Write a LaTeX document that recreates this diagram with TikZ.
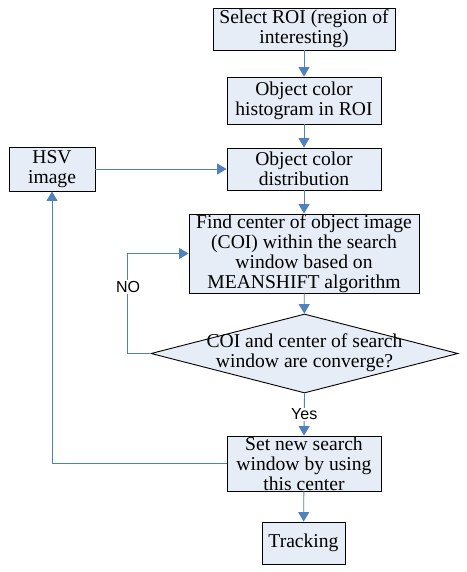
\documentclass[tikz,border=0pt]{standalone}
\usepackage{fontspec}
\setmainfont{Liberation Serif}
\newfontfamily\lblfont{Liberation Sans}
\usetikzlibrary{arrows.meta,shapes.geometric}
\definecolor{boxfill}{RGB}{231,237,247}
\definecolor{lineblue}{RGB}{79,129,189}
\begin{document}
\begin{tikzpicture}[x=1pt,y=-1pt,
 procbox/.style={draw=black,fill=boxfill,line width=0.9pt,inner sep=0pt,align=center,font=\fontsize{19.6}{20}\selectfont},
 decbox/.style={diamond,draw=black,fill=boxfill,line width=0.9pt,inner sep=0pt},
 dectext/.style={inner sep=0pt,align=center,font=\fontsize{19.6}{20}\selectfont},
 flow/.style={draw=lineblue,line width=0.9pt,-{Triangle[width=11pt,length=9.5pt]}},
 link/.style={draw=lineblue,line width=0.9pt},
 lbl/.style={fill=white,inner sep=1pt,font=\lblfont\fontsize{16}{18}\selectfont}]
\useasboundingbox (0,0) rectangle (466,572);
\node[procbox,minimum width=182pt,minimum height=42pt] (roi) at (304,29) {Select ROI (region of\\interesting)};
\node[procbox,minimum width=154pt,minimum height=47pt] (hist) at (304,100.5) {Object color\\histogram in ROI};
\node[procbox,minimum width=154pt,minimum height=42pt] (dist) at (304,169) {Object color\\distribution};
\node[procbox,minimum width=86pt,minimum height=44pt] (hsv) at (52,169) {HSV\\image};
\node[procbox,minimum width=230pt,minimum height=79pt] (find) at (304,253.5) {Find center of object image\\(COI) within the search\\window based on\\MEANSHIFT algorithm};
\node[decbox,minimum width=307pt,minimum height=79pt] (dia) at (304.5,353.5) {};
\node[dectext] (diatext) at (304.5,353) {COI and center of search\\window are converge?};
\node[procbox,minimum width=154pt,minimum height=55pt] (set) at (304,463.5) {Set new search\\window by using\\this center};
\node[procbox,minimum width=83pt,minimum height=42pt] (track) at (303.5,543) {Tracking};
\coordinate (nocorner) at (127,353.5);
\draw[flow] (roi) -- (hist);
\draw[flow] (hist) -- (dist);
\draw[flow] (hsv) -- (dist);
\draw[flow] (dist) -- (find);
\draw[flow] (find) -- (dia);
\draw[flow] (dia.south) -- node[lbl] (yes) {Yes} (set.north);
\draw[flow] (set) -- (track);
\draw[flow] (set.west) -| (hsv.south);
\draw[flow] (dia.west) -- (nocorner) |- (find.west);
\node[lbl] (no) at (128,287) {NO};
\end{tikzpicture}
\end{document}
